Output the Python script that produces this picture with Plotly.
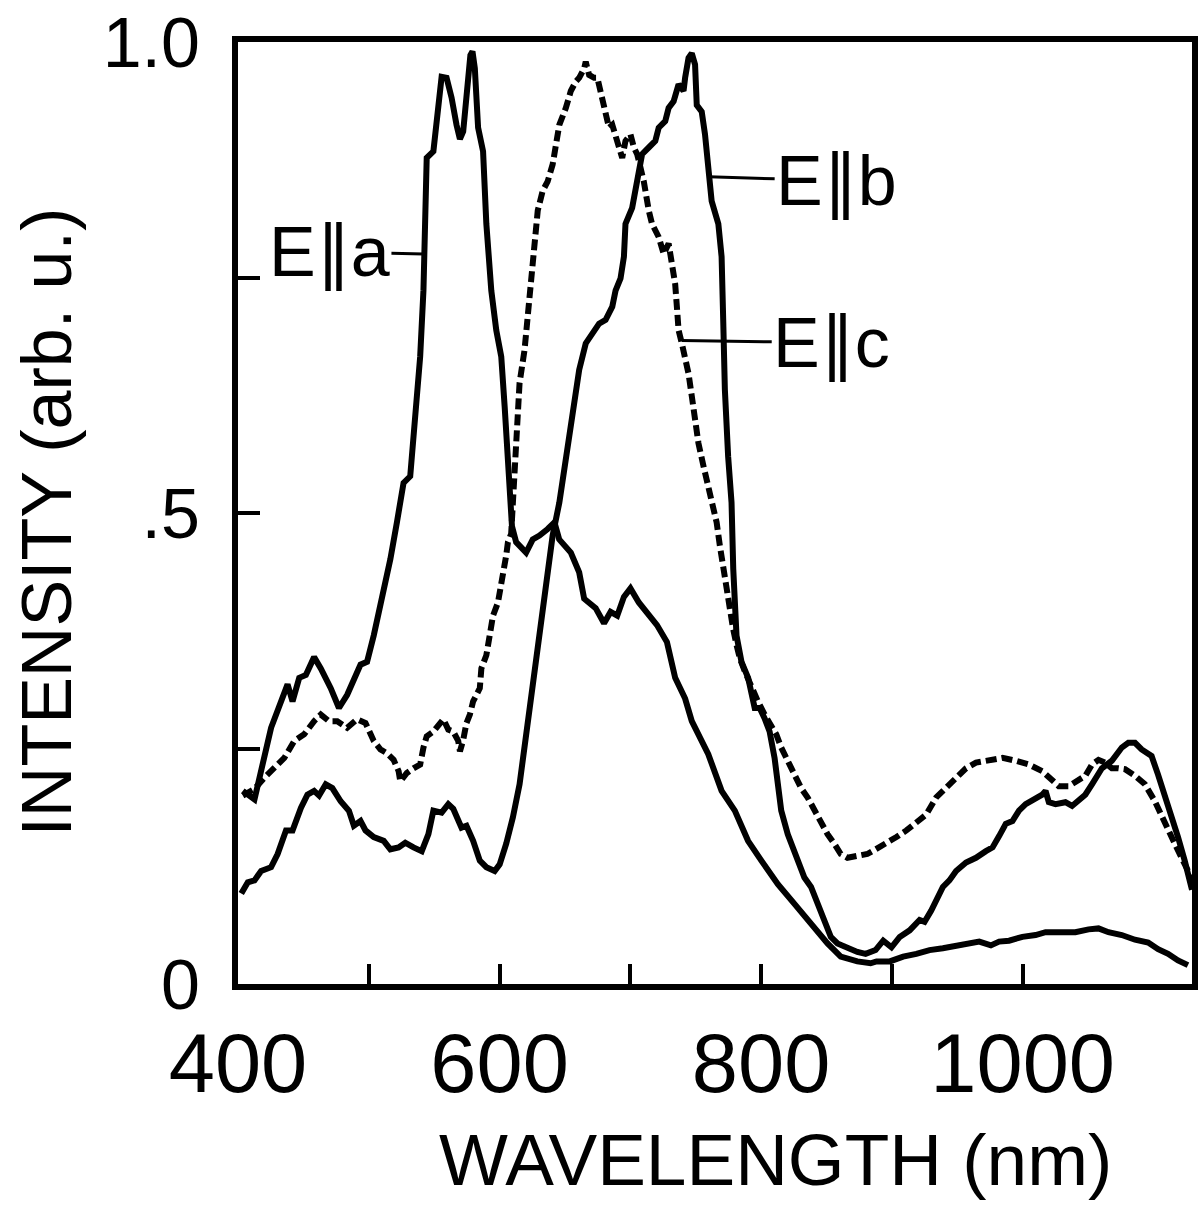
import plotly.graph_objects as go

# ---------------- data ----------------
wl_a = [403.7, 412.6, 425.3, 437.9, 441.7, 446.8, 451.9, 458.2, 463.3, 470.9, 477.2, 483.5, 493.7, 498.7,
        503.8, 508.9, 516.5, 521.5, 524.1, 526.6, 531.7, 535.5, 539.3, 541.8, 543.1, 544.3, 549.4, 551.9,
        553.2, 555.7, 559.5, 563.3, 567.1, 569.7, 572.2, 574.7, 577.7, 579.3, 581.1, 583.6, 587.4, 589.9,
        593.7, 597.5, 601.3, 603.9, 606.4, 608.0, 609.5, 612.7, 620.3, 625.4, 630.5, 636.8, 642.0, 645.6,
        654.5, 660.9, 664.7, 673.5, 679.9, 684.9, 690.0, 695.1, 700.1, 706.5, 715.3, 720.4, 728.0, 734.3,
        741.9, 747.0, 759.6, 769.8, 779.9, 790.0, 800.2, 812.8, 825.5, 838.2, 850.8, 860.9, 873.6, 883.7,
        888.3, 898.4, 908.6, 918.7, 928.8, 939.0, 949.1, 959.2, 966.8, 975.7, 982.0, 989.6, 999.8, 1009.9,
        1017.5, 1030.2, 1040.3, 1050.4, 1058.0, 1065.6, 1075.8, 1085.9, 1096.0, 1103.6, 1111.2, 1118.8, 1126.4]
int_a = [.205, .196, .272, .318, .300, .325, .328, .347, .335, .314, .293, .307, .339, .342,
         .370, .402, .451, .490, .511, .532, .539, .596, .666, .736, .789, .877, .884, .912,
         .926, .963, .962, .941, .912, .897, .905, .941, .986, .990, .972, .909, .884, .807,
         .736, .694, .666, .613, .560, .515, .486, .469, .458, .472, .476, .483, .490, .472,
         .458, .437, .409, .399, .383, .395, .391, .411, .420, .405, .390, .381, .363, .325,
         .303, .279, .244, .205, .184, .152, .131, .106, .085, .064, .043, .029, .024, .022,
         .024, .024, .029, .032, .036, .038, .041, .043, .045, .041, .045, .046, .050, .052,
         .055, .055, .055, .058, .059, .055, .052, .047, .044, .037, .032, .025, .020]

wl_b = [402.5, 407.5, 412.6, 417.7, 425.3, 430.3, 436.7, 441.7, 448.1, 453.1, 458.2, 462.0, 467.1, 472.1,
        478.5, 484.8, 488.6, 493.7, 497.5, 503.8, 511.4, 516.5, 522.8, 527.9, 534.2, 540.5, 545.6, 549.4,
        555.7, 560.8, 564.6, 570.9, 574.7, 579.8, 584.9, 589.9, 596.3, 600.1, 605.1, 610.2, 615.3, 620.3,
        625.4, 630.5, 634.3, 636.8, 640.6, 645.7, 650.7, 655.8, 660.9, 665.9, 671.0, 676.1, 681.1, 686.2,
        688.7, 692.5, 695.1, 696.3, 701.4, 706.5, 709.0, 714.1, 719.1, 721.7, 726.7, 729.3, 733.1, 736.9,
        740.7, 741.9, 744.5, 747.0, 749.5, 750.8, 754.6, 757.1, 759.7, 762.2, 767.3, 769.8, 771.1, 772.3,
        774.8, 777.4, 778.7, 781.2, 785.0, 790.1, 795.1, 798.9, 802.7, 806.5, 810.3, 812.8, 815.4, 820.4,
        828.1, 833.1, 838.2, 843.2, 848.3, 853.3, 858.4, 866.0, 873.6, 879.9, 887.5, 893.4, 899.7, 906.0,
        913.6, 921.2, 925.0, 930.1, 935.2, 939.0, 944.0, 949.1, 956.7, 964.3, 971.9, 977.0, 982.0, 987.1,
        992.2, 997.2, 1002.3, 1009.9, 1015.0, 1017.5, 1020.0, 1025.1, 1032.7, 1037.8, 1042.8, 1047.9,
        1053.0, 1060.6, 1068.2, 1075.8, 1080.8, 1085.9, 1091.0, 1098.6, 1103.6, 1108.7, 1113.8, 1118.8,
        1123.9, 1127.7, 1129.5]
int_b = [.096, .108, .110, .120, .124, .138, .163, .163, .187, .201, .205, .200, .212, .208,
         .194, .184, .168, .173, .163, .156, .152, .143, .145, .150, .145, .141, .159, .184,
         .182, .191, .186, .166, .168, .152, .131, .124, .120, .127, .149, .177, .212, .265,
         .318, .374, .413, .441, .476, .511, .560, .603, .652, .680, .691, .701, .705, .719,
         .736, .749, .772, .807, .824, .863, .881, .888, .895, .909, .916, .930, .937, .955,
         .948, .962, .983, .988, .976, .933, .926, .902, .856, .831, .807, .772, .701, .631,
         .560, .511, .441, .370, .342, .325, .293, .293, .282, .268, .240, .212, .184, .159,
         .131, .113, .103, .085, .068, .050, .043, .038, .034, .032, .036, .046, .039, .050,
         .057, .068, .066, .078, .092, .103, .110, .120, .129, .134, .141, .145, .157, .170,
         .173, .184, .191, .196, .201, .205, .193, .191, .193, .189, .194, .201,
         .212, .229, .237, .251, .256, .256, .249, .242, .222, .201, .180, .156,
         .131, .110, .100]

wl_c = [403.7, 412.6, 420.2, 427.8, 435.4, 443.0, 450.6, 458.2, 463.3, 469.6, 475.9, 483.5, 491.1, 497.5,
        503.8, 508.9, 513.9, 519.0, 522.8, 524.1, 529.1, 534.2, 539.3, 541.8, 544.3, 549.4, 553.2, 557.0,
        560.8, 564.6, 568.4, 569.7, 572.2, 574.7, 577.3, 579.8, 584.9, 586.1, 589.9, 592.5, 595.0, 598.8,
        601.3, 603.9, 605.1, 606.4, 608.9, 610.2, 611.5, 612.7, 615.3, 619.1, 621.6, 624.1, 625.4, 626.7,
        629.2, 633.0, 636.8, 640.6, 643.1, 645.7, 650.7, 654.5, 658.3, 660.9, 664.7, 665.9, 668.5, 672.3,
        674.8, 678.6, 681.1, 683.7, 686.2, 688.7, 691.3, 693.8, 696.3, 700.1, 702.7, 705.2, 707.7, 710.3,
        714.1, 716.6, 721.7, 725.5, 729.3, 731.8, 734.3, 735.6, 736.9, 739.4, 741.9, 744.5, 747.0, 749.5,
        752.1, 755.9, 759.7, 762.2, 766.0, 768.5, 771.1, 773.6, 776.1, 778.6, 781.2, 783.7, 787.5, 792.6,
        797.6, 802.7, 807.8, 811.6, 815.4, 820.4, 825.5, 830.6, 835.6, 840.7, 845.7, 850.8, 855.9, 860.9,
        866.0, 873.6, 881.2, 887.5, 895.9, 903.5, 911.1, 918.7, 926.3, 933.9, 941.5, 949.1, 956.7, 964.3,
        974.4, 984.6, 994.7, 1004.8, 1015.0, 1022.6, 1027.6, 1035.2, 1040.3, 1047.9, 1053.0, 1058.0,
        1063.1, 1068.2, 1073.2, 1078.3, 1085.9, 1093.5, 1101.1, 1108.7, 1116.3, 1122.6, 1129.0]
int_c = [.200, .207, .219, .229, .240, .258, .265, .279, .286, .279, .279, .272, .281, .277,
         .258, .249, .245, .238, .226, .215, .224, .229, .233, .251, .263, .268, .275, .281,
         .270, .268, .258, .247, .259, .277, .286, .300, .314, .335, .349, .370, .391, .405,
         .423, .441, .455, .469, .478, .511, .543, .596, .638, .673, .708, .743, .772, .793,
         .821, .842, .852, .870, .895, .912, .930, .948, .958, .962, .972, .979, .965, .962,
         .962, .937, .919, .909, .912, .902, .891, .877, .895, .902, .888, .881, .867, .852,
         .821, .807, .793, .775, .786, .765, .743, .719, .694, .680, .666, .648, .624, .596,
         .574, .550, .525, .511, .490, .465, .441, .416, .395, .377, .360, .346, .332, .314,
         .300, .286, .275, .265, .251, .237, .222, .208, .198, .184, .170, .159, .149, .138,
         .134, .136, .138, .143, .149, .156, .163, .171, .180, .198, .208, .219, .229, .235,
         .238, .240, .237, .233, .226, .215, .210, .210, .214, .221, .233, .238,
         .235, .229, .229, .228, .221, .212, .194, .173, .149, .131, .113]

x_tickvals = [400, 500, 600, 700, 800, 900, 1000]
x_ticktext = ["400", "", "600", "", "800", "", "1000"]
y_tickvals = [0, 0.25, 0.5, 0.75, 1.0]
y_ticktext = ["0", "", ".5", "", "1.0"]

labels = ["E\u2225a", "E\u2225b", "E\u2225c"]
label_wl = [541.8, 759.9, 739.3]      # where each leader line meets its curve
label_int = [0.775, 0.857, 0.683]

FONT = "Liberation Sans, Arial, sans-serif"

fig = go.Figure()
line_style = dict(color="black", width=6)
fig.add_trace(go.Scatter(x=wl_a, y=int_a, mode="lines", line=line_style, name=labels[0]))
fig.add_trace(go.Scatter(x=wl_b, y=int_b, mode="lines", line=line_style, name=labels[1]))
fig.add_trace(go.Scatter(x=wl_c, y=int_c, mode="lines",
                         line=dict(color="black", width=6, dash="11px,5px"), name=labels[2]))

offsets = [(-94, -2), (128, 4), (150, 2)]
for t, xv, yv, (ax, ay) in zip(labels, label_wl, label_int, offsets):
    fig.add_annotation(x=xv, y=yv, text=t, showarrow=True, arrowhead=0, arrowwidth=3,
                       arrowcolor="black", ax=ax, ay=ay, standoff=0,
                       font=dict(family=FONT, size=70, color="black"))

fig.add_annotation(text="WAVELENGTH (nm)", xref="paper", yref="paper", x=0.5635, y=-0.186,
                   xanchor="center", yanchor="middle",
                   showarrow=False, font=dict(family=FONT, size=73, color="black"))
fig.add_annotation(text="INTENSITY (arb. u.)", xref="paper", yref="paper", x=-0.2, y=0.49,
                   xanchor="center", yanchor="middle",
                   showarrow=False, textangle=-90, font=dict(family=FONT, size=70, color="black"))

fig.update_layout(
    width=1201, height=1209,
    margin=dict(l=238, r=3, t=37, b=225),
    paper_bgcolor="white", plot_bgcolor="white",
    showlegend=False,
    xaxis=dict(range=[400, 1129.5], showgrid=False, zeroline=False,
               showline=True, linecolor="black", linewidth=6, mirror=True,
               ticks="inside", ticklen=20, tickwidth=4, tickcolor="black",
               tickvals=x_tickvals, ticktext=x_ticktext, ticklabelstandoff=2,
               ticklabeloverflow="allow",
               tickfont=dict(family=FONT, size=83, color="black")),
    yaxis=dict(range=[0, 1.0], showgrid=False, zeroline=False,
               showline=True, linecolor="black", linewidth=6, mirror=True,
               ticks="inside", ticklen=22, tickwidth=4, tickcolor="black",
               tickvals=y_tickvals, ticktext=y_ticktext, ticklabelstandoff=18,
               ticklabeloverflow="allow",
               tickfont=dict(family=FONT, size=70, color="black")),
)

fig.write_html("out.html")
